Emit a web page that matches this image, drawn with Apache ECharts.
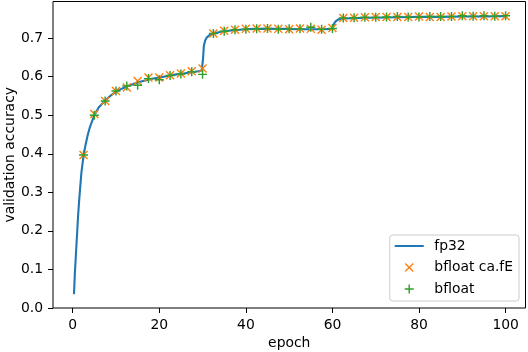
<!DOCTYPE html>
<html>
<head>
<meta charset="utf-8">
<script src="https://cdn.jsdelivr.net/npm/echarts@6/dist/echarts.min.js"></script>
<style>
html,body{margin:0;padding:0;background:#fff;}
#chart{width:528px;height:352px;}
</style>
</head>
<body>
<div id="chart"></div>
<script>
// ---- data ----
const fp32Epochs = [0.3, 0.5, 0.75, 1, 1.25, 1.5, 2, 2.5, 3, 3.5, 4, 5, 6, 7, 8, 9, 10, 11, 12, 13, 14, 15, 16, 17, 18, 19, 20, 21, 22, 23, 24, 25, 26, 27, 28, 29, 29.8, 30.1, 30.3, 30.6, 31, 31.5, 32, 33, 34, 35, 36, 38, 40, 42, 44, 46, 48, 50, 52, 54, 56, 58, 59.8, 60.1, 60.4, 60.8, 61.3, 62, 63, 65, 68, 70, 75, 80, 85, 90, 95, 100];
const fp32Acc = [0.036, 0.09, 0.14, 0.19, 0.24, 0.28, 0.35, 0.395, 0.425, 0.45, 0.47, 0.5, 0.52, 0.532, 0.543, 0.553, 0.561, 0.567, 0.572, 0.577, 0.581, 0.585, 0.588, 0.591, 0.594, 0.596, 0.598, 0.6, 0.602, 0.604, 0.606, 0.607, 0.609, 0.611, 0.612, 0.614, 0.616, 0.645, 0.68, 0.694, 0.702, 0.707, 0.71, 0.713, 0.716, 0.718, 0.719, 0.721, 0.723, 0.724, 0.724, 0.724, 0.724, 0.724, 0.723, 0.723, 0.723, 0.723, 0.724, 0.73, 0.738, 0.744, 0.748, 0.75, 0.751, 0.752, 0.753, 0.753, 0.754, 0.755, 0.755, 0.756, 0.756, 0.757];

const markerEpochs = [2.5, 5, 7.5, 10, 12.5, 15, 17.5, 20, 22.5, 25, 27.5, 30, 32.5, 35, 37.5, 40, 42.5, 45, 47.5, 50, 52.5, 55, 57.5, 60, 62.5, 65, 67.5, 70, 72.5, 75, 77.5, 80, 82.5, 85, 87.5, 90, 92.5, 95, 97.5, 100];
const bfloatFeAcc = [0.397, 0.503, 0.537, 0.563, 0.572, 0.589, 0.598, 0.598, 0.604, 0.608, 0.614, 0.621, 0.712, 0.719, 0.722, 0.724, 0.725, 0.725, 0.724, 0.723, 0.725, 0.724, 0.722, 0.726, 0.752, 0.753, 0.754, 0.755, 0.755, 0.755, 0.755, 0.756, 0.755, 0.755, 0.756, 0.757, 0.757, 0.757, 0.757, 0.757];
const bfloatAcc = [0.397, 0.5, 0.537, 0.563, 0.576, 0.578, 0.595, 0.592, 0.603, 0.607, 0.613, 0.606, 0.712, 0.718, 0.722, 0.723, 0.724, 0.725, 0.723, 0.724, 0.724, 0.728, 0.723, 0.725, 0.752, 0.753, 0.754, 0.754, 0.755, 0.756, 0.755, 0.755, 0.756, 0.756, 0.756, 0.758, 0.757, 0.758, 0.757, 0.758];

const seriesNames = ['fp32', 'bfloat ca.fE', 'bfloat'];
const xTickMin = 0, xTickMax = 100, xTickStep = 20;
const yTickMin = 0, yTickMax = 0.7, yTickStep = 0.1;
const xLabel = 'epoch';
const yLabel = 'validation accuracy';

// ---- chart ----
const FONT = 'DejaVu Sans';
const FS = 13.9;
const xPath = 'path://M0,11 L11,0 L50,39 L89,0 L100,11 L61,50 L100,89 L89,100 L50,61 L11,100 L0,89 L39,50 Z';
const plusPath = 'path://M42,0 L58,0 L58,42 L100,42 L100,58 L58,58 L58,100 L42,100 L42,58 L0,58 L0,42 L42,42 Z';
const lineIcon = 'path://M0,0 L100,0 L100,7 L0,7 Z';

const zip = (xs, ys) => xs.map((x, i) => [x, ys[i]]);

const chart = echarts.init(document.getElementById('chart'), null, {renderer: 'canvas'});
chart.setOption({
  animation: false,
  backgroundColor: '#fff',
  textStyle: {fontFamily: FONT},
  grid: [
    {left: 53, right: 2.5, top: 1.5, bottom: 44, containLabel: false, outerBoundsMode: 'none',
     show: true, borderColor: '#000', borderWidth: 1, backgroundColor: 'transparent'},
    {left: 72.7, right: 22.3, top: 38.1, bottom: 44, containLabel: false, outerBoundsMode: 'none'}
  ],
  xAxis: [
    {gridIndex: 0, type: 'value', min: -4.55, max: 104.6,
     axisLine: {show: false, onZero: false}, axisTick: {show: false}, axisLabel: {show: false}, splitLine: {show: false},
     name: xLabel, nameLocation: 'middle', nameGap: 28,
     nameTextStyle: {fontFamily: FONT, fontSize: FS, color: '#000'}},
    {gridIndex: 1, type: 'value', min: xTickMin, max: xTickMax, interval: xTickStep,
     axisLine: {show: false, onZero: false}, splitLine: {show: false},
     axisTick: {show: true, length: 5, lineStyle: {color: '#000', width: 1}},
     axisLabel: {margin: 10, color: '#000', fontFamily: FONT, fontSize: FS}}
  ],
  yAxis: [
    {gridIndex: 0, type: 'value', min: 0, max: 0.795,
     axisLine: {show: false, onZero: false}, axisTick: {show: false}, axisLabel: {show: false}, splitLine: {show: false},
     name: yLabel, nameLocation: 'middle', nameGap: 36,
     nameTextStyle: {fontFamily: FONT, fontSize: FS, color: '#000'}},
    {gridIndex: 1, type: 'value', min: yTickMin, max: yTickMax, interval: yTickStep, offset: 19.7,
     axisLine: {show: false, onZero: false}, splitLine: {show: false},
     axisTick: {show: true, length: 5, lineStyle: {color: '#000', width: 1}},
     axisLabel: {margin: 10, color: '#000', fontFamily: FONT, fontSize: FS,
                 formatter: v => v.toFixed(1)}}
  ],
  legend: {
    data: [{name: seriesNames[0], icon: lineIcon}, seriesNames[1], seriesNames[2]],
    orient: 'vertical',
    right: 9, bottom: 51,
    itemWidth: 29, itemHeight: 9, itemGap: 7.5,
    padding: [4, 6, 5, 5],
    backgroundColor: 'rgba(255,255,255,0.8)',
    borderColor: '#cccccc', borderWidth: 1, borderRadius: 3,
    selectedMode: false,
    textStyle: {fontFamily: FONT, fontSize: FS, color: '#000', lineHeight: 14, padding: [0, 0, 0, 5.6]}
  },
  series: [
    {name: seriesNames[0], type: 'line', xAxisIndex: 0, yAxisIndex: 0,
     data: zip(fp32Epochs, fp32Acc), symbol: 'none', smooth: false,
     lineStyle: {color: '#1f77b4', width: 2.1}, itemStyle: {color: '#1f77b4'}, z: 2},
    {name: seriesNames[1], type: 'scatter', xAxisIndex: 0, yAxisIndex: 0,
     data: zip(markerEpochs, bfloatFeAcc), symbol: xPath, symbolSize: 9,
     itemStyle: {color: '#ff7f0e', opacity: 1}, z: 3},
    {name: seriesNames[2], type: 'scatter', xAxisIndex: 0, yAxisIndex: 0,
     data: zip(markerEpochs, bfloatAcc), symbol: plusPath, symbolSize: 9,
     itemStyle: {color: '#2ca02c', opacity: 1}, z: 4}
  ]
});
</script>
</body>
</html>
